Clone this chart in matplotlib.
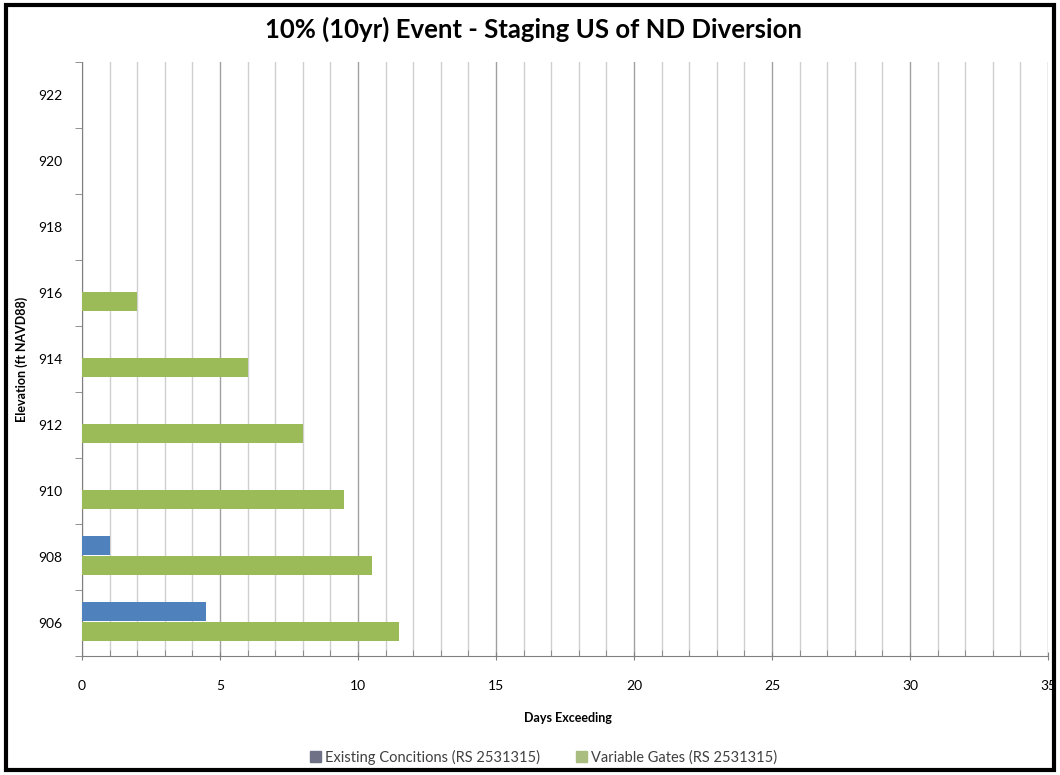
import matplotlib
matplotlib.use("Agg")
import matplotlib.pyplot as plt
from matplotlib.patches import Patch, Rectangle
from matplotlib.ticker import MultipleLocator
import numpy as np

elevations = ["906", "908", "910", "912", "914", "916", "918", "920", "922"]
existing = [4.5, 1.0, 0, 0, 0, 0, 0, 0, 0]
variable = [11.5, 10.5, 9.5, 8.0, 6.0, 2.0, 0, 0, 0]

plt.rcParams['font.family'] = ['Lato', 'DejaVu Sans']

fig = plt.figure(figsize=(10.6, 7.75), dpi=100)
ax = fig.add_axes([0.0774, 0.1535, 0.9113, 0.7665])

y = np.arange(len(elevations))
h = 0.29
ax.barh(y + 0.17, existing, height=h, color='#4F81BD', zorder=3)
ax.barh(y - 0.125, variable, height=h, color='#9BBB59', zorder=3)

ax.set_xlim(0, 35)
ax.set_ylim(-0.5, len(elevations) - 0.5)
ax.xaxis.set_major_locator(MultipleLocator(5))
ax.xaxis.set_minor_locator(MultipleLocator(1))
ax.grid(axis='x', which='minor', color='#cfcfcf', lw=1, zorder=0)
ax.grid(axis='x', which='major', color='#a0a0a0', lw=1, zorder=0)
ax.set_yticks(y)
ax.set_yticklabels(elevations)
ax.set_yticks(np.arange(-0.5, len(elevations)), minor=True)
ax.tick_params(axis='y', which='major', length=0, pad=14, labelsize=10)
ax.tick_params(axis='y', which='minor', length=5, direction='out', color='#808080')
ax.tick_params(axis='x', which='major', length=6, direction='inout', color='#808080', labelsize=10, pad=14)
ax.tick_params(axis='x', which='minor', length=4, direction='in', color='#808080')
for s in ['top', 'right']:
    ax.spines[s].set_visible(False)
for s in ['left', 'bottom']:
    ax.spines[s].set_color('#808080')

fig.text(0.503, 0.962, "10% (10yr) Event - Staging US of ND Diversion",
         ha='center', va='center', fontsize=18.5, fontweight='bold')
ax.set_xlabel("Days Exceeding", fontsize=9, fontweight='bold')
ax.xaxis.set_label_coords(0.503, -0.095)
ax.set_ylabel("Elevation (ft NAVD88)", fontsize=9, fontweight='bold')
ax.yaxis.set_label_coords(-0.056, 0.5)

handles = [Patch(color='#6f7286', label='Existing Concitions (RS 2531315)'),
           Patch(color='#a9bd80', label='Variable Gates (RS 2531315)')]
fig.legend(handles=handles, loc='center', bbox_to_anchor=(0.513, 0.023), ncol=2,
           frameon=False, fontsize=10.5, handlelength=0.7, handleheight=0.7,
           handletextpad=0.3, columnspacing=2.5, labelcolor='#404040')

fig.patches.append(Rectangle((0.006, 0.006), 0.988, 0.987, transform=fig.transFigure,
                             fill=False, lw=3, edgecolor='black'))

fig.savefig("out.png", dpi=100)
